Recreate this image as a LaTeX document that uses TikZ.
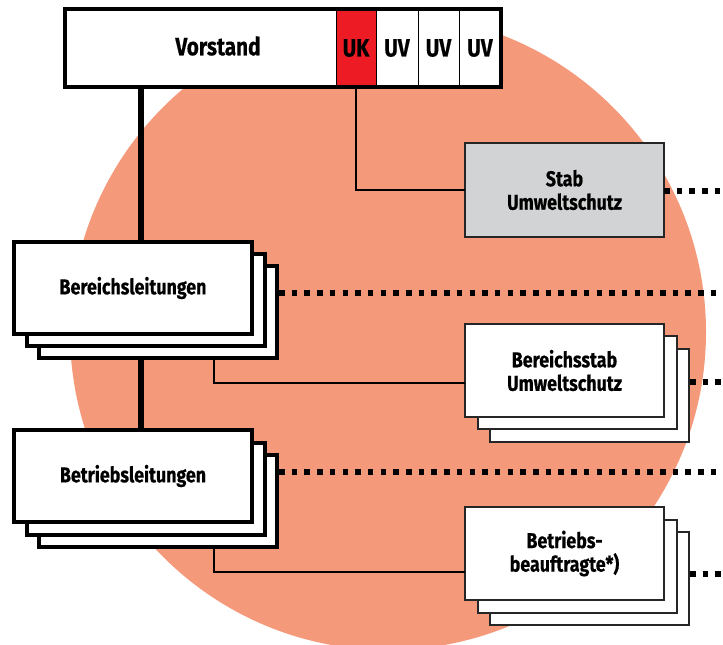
\documentclass[tikz,border=0pt]{standalone}
\usepackage{fontspec}
\setmainfont{Fira Sans}[FakeStretch=0.83, BoldFeatures={FakeBold=0.5}]
\definecolor{salmon}{HTML}{F5997B}
\definecolor{ukred}{HTML}{ED1C24}
\definecolor{stabgray}{HTML}{D1D3D4}
\begin{document}
\begin{tikzpicture}[x=1pt,y=-1pt,
  lab/.style={font=\fontsize{21.5}{23.5}\selectfont\bfseries, align=center},
  cell/.style={draw, line width=1pt, anchor=north west, inner sep=0pt, outer sep=0pt, font=\fontsize{25}{28}\selectfont\bfseries},
  heavybox/.style={draw, line width=4pt, fill=white, anchor=north west, minimum width=238pt, minimum height=92pt, inner sep=0pt, outer sep=0pt},
  lightbox/.style={draw=black!85, line width=1.3pt, fill=white, anchor=north west, minimum width=199pt, minimum height=93pt, inner sep=0pt, outer sep=0pt},
  spine/.style={line width=5.5pt},
  link/.style={line width=1.8pt},
  dots/.style={line width=5.5pt, dash pattern=on 5.5pt off 7.2pt}]
\useasboundingbox (0,0) rectangle (723,645);
% background circle
\fill[salmon] (388,332) circle (318);
% Vorstand row
\node[cell, minimum width=271pt, minimum height=78pt, fill=white] (vorstand) at (65,9) {};
\node[font=\fontsize{25}{28}\selectfont\bfseries] (vorstandt) at (218,46) {Vorstand};
\node[cell, minimum width=40pt, minimum height=78pt, fill=ukred] (uk) at (336,9) {UK};
\node[cell, minimum width=42pt, minimum height=78pt, fill=white] (uv1) at (376,9) {UV};
\node[cell, minimum width=41pt, minimum height=78pt, fill=white] (uv2) at (418,9) {UV};
\node[cell, minimum width=42pt, minimum height=78pt, fill=white] (uv3) at (459,9) {UV};
\draw[line width=4pt] (vorstand.north west) rectangle (uv3.south east);
% helper coordinates
\coordinate (sp) at (141,0);
\coordinate (br) at (214,0);
\coordinate (edge) at (723,0);
% Stab
\node[lightbox, fill=stabgray, minimum height=94pt] (stab) at (465,143) {};
\node[lab] (stabt) at (stab.center) {Stab\\Umweltschutz};
% Bereichsleitungen stack
\node[heavybox] (bl3) at (39,266) {};
\node[heavybox] (bl2) at (27,254) {};
\node[heavybox] (bl) at (14,242) {};
\node[lab] (blt) at (bl.center) {Bereichsleitungen};
% Betriebsleitungen stack
\node[heavybox] (be3) at (39,455) {};
\node[heavybox] (be2) at (27,443) {};
\node[heavybox] (be) at (14,430) {};
\node[lab] (bet) at (be.center) {Betriebsleitungen};
% Bereichsstab stack
\node[lightbox] (bs3) at (490,349) {};
\node[lightbox] (bs2) at (478,336) {};
\node[lightbox] (bs) at (465,324) {};
\node[lab] (bst) at (bs.center) {Bereichsstab\\Umweltschutz};
% Betriebsbeauftragte stack
\node[lightbox] (bb3) at (490,532) {};
\node[lightbox] (bb2) at (478,520) {};
\node[lightbox] (bb) at (465,507) {};
\node[lab] (bbt) at (bb.center) {Betriebs-\\beauftragte*)};
% connectors
\draw[spine] (vorstand.south -| sp) -- (bl.north -| sp);
\draw[spine] (bl3.south -| sp) -- (be.north -| sp);
\draw[link] (uk.south) |- (stab.west);
\draw[link] (bl3.south -| br) |- (bs.west |- 0,383);
\draw[link] (be3.south -| br) |- (bb.west |- 0,572);
% dotted lines
\draw[dots] (stab.east |- 0,191) -- (edge |- 0,191);
\draw[dots] ([xshift=2pt]bl3.east |- 0,293) -- (edge |- 0,293);
\draw[dots] ([xshift=1pt]bs3.east |- 0,382) -- (edge |- 0,382);
\draw[dots] ([xshift=2pt]be3.east |- 0,472) -- (edge |- 0,472);
\draw[dots] ([xshift=1pt]bb3.east |- 0,574) -- (edge |- 0,574);
\end{tikzpicture}
\end{document}
